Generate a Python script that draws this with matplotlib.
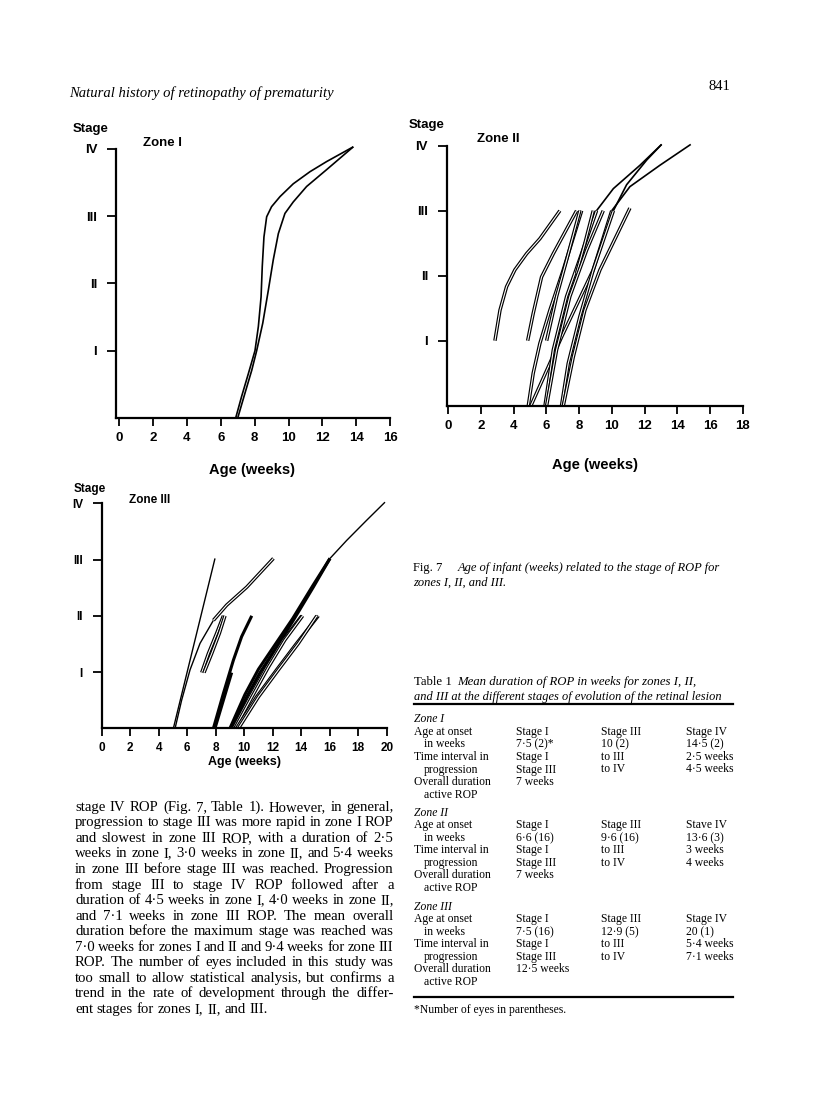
import matplotlib
matplotlib.use("Agg")
from matplotlib import pyplot as plt

W, H = 816, 1118

# ---- data (age in weeks, stage 0 = none, 1..4 = I..IV) ----
zone1_weeks = [
    [6.88, 7.23, 7.63, 8.02, 8.22, 8.38, 8.45, 8.55, 8.71, 9.0, 9.5, 10.28, 11.27, 12.25, 13.83],
    [7.0, 7.43, 7.83, 8.12, 8.48, 8.81, 9.1, 9.4, 9.79, 10.28, 11.07, 12.25, 13.83],
]
zone1_stages = [
    [0, 0.32, 0.66, 1.0, 1.36, 1.8, 2.25, 2.69, 2.99, 3.14, 3.29, 3.48, 3.66, 3.81, 4.03],
    [0, 0.37, 0.71, 1.0, 1.41, 1.9, 2.35, 2.74, 3.04, 3.21, 3.44, 3.69, 4.03],
]

zone2_weeks = [
    [2.85, 3.16, 3.56, 4.07, 4.79, 5.6, 6.82],
    [4.85, 5.19, 5.7, 6.42, 7.84],
    [4.89, 5.19, 5.6, 6.21, 7.03, 8.15],
    [6.01, 6.62, 7.23, 8.04],
    [5.05, 6.93, 8.86, 9.99],
    [5.91, 6.42, 7.23, 8.15, 9.06],
    [6.92, 7.33, 8.04, 8.86, 10.09],
    [7.03, 7.64, 8.35, 9.27, 11.1],
    [7.84, 8.35, 8.86],
    [6.01, 6.62, 7.43, 8.45, 9.47],
]
zone2_stages = [
    [1.0, 1.47, 1.83, 2.09, 2.34, 2.57, 3.0],
    [1.0, 1.42, 1.98, 2.34, 3.0],
    [0, 0.5, 0.96, 1.47, 2.09, 3.0],
    [1.0, 1.68, 2.24, 3.0],
    [0, 1.06, 2.09, 3.0],
    [0, 0.86, 1.68, 2.34, 3.0],
    [0, 0.65, 1.37, 2.09, 3.0],
    [0, 0.75, 1.47, 2.09, 3.04],
    [2.04, 2.5, 3.0],
    [0, 0.86, 1.68, 2.39, 3.0],
]
# stage III -> IV continuations
zone2_tail_weeks = [[9.06, 10.09, 11.72, 13.04], [10.09, 10.9, 12.13, 13.04], [9.99, 11.1, 12.94, 14.82]]
zone2_tail_stages = [[3.0, 3.34, 3.7, 4.02], [3.0, 3.4, 3.78, 4.02], [3.0, 3.37, 3.7, 4.02]]

zone3_thin_weeks = [[5.03, 7.95], [5.15, 5.61, 6.2, 6.9, 7.84], [16.02, 17.19, 18.6, 19.88]]
zone3_thin_stages = [[0, 3.02], [0, 0.5, 1.04, 1.51, 1.92], [3.02, 3.34, 3.7, 4.02]]
zone3_double_weeks = [
    [7.84, 8.77, 10.18, 12.05],
    [7.02, 7.49, 8.07, 8.54],
    [7.18, 7.72, 8.26, 8.65],
    [9.24, 10.41, 11.58, 12.75, 14.04],
    [9.35, 10.55, 11.7, 12.85, 14.1],
    [9.47, 10.88, 12.28, 13.68, 15.2],
    [9.6, 11.0, 12.4, 13.8, 15.1],
]
zone3_double_stages = [
    [1.92, 2.19, 2.51, 3.02],
    [0.99, 1.33, 1.69, 2.0],
    [0.99, 1.33, 1.69, 2.0],
    [0, 0.56, 1.09, 1.57, 2.0],
    [0, 0.56, 1.09, 1.57, 2.0],
    [0, 0.56, 1.04, 1.51, 2.0],
    [0, 0.56, 1.04, 1.51, 2.0],
]
zone3_thick_weeks = [
    [7.84, 8.54, 9.24, 9.82, 10.53],
    [7.95, 8.54, 9.12],
    [9.12, 10.18, 11.11, 12.28, 13.45, 14.85, 16.02],
    [9.0, 10.05, 11.0, 12.2, 13.4, 14.8, 16.02],
]
zone3_thick_stages = [
    [0, 0.62, 1.21, 1.63, 2.0],
    [0, 0.5, 0.99],
    [0, 0.56, 0.99, 1.45, 1.92, 2.51, 3.02],
    [0, 0.6, 1.05, 1.5, 1.95, 2.53, 3.02],
]

stage_labels = ["I", "II", "III", "IV"]

header = "Natural history of retinopathy of prematurity"
page_no = "841"

body_lines = [
    "stage IV ROP (Fig. 7, Table 1). However, in general,",
    "progression to stage III was more rapid in zone I ROP",
    "and slowest in zone III ROP, with a duration of 2·5",
    "weeks in zone I, 3·0 weeks in zone II, and 5·4 weeks",
    "in zone III before stage III was reached. Progression",
    "from stage III to stage IV ROP followed after a",
    "duration of 4·5 weeks in zone I, 4·0 weeks in zone II,",
    "and 7·1 weeks in zone III ROP. The mean overall",
    "duration before the maximum stage was reached was",
    "7·0 weeks for zones I and II and 9·4 weeks for zone III",
    "ROP. The number of eyes included in this study was",
    "too small to allow statistical analysis, but confirms a",
    "trend in the rate of development through the differ-",
    "ent stages for zones I, II, and III.",
]

table_zones = ["Zone I", "Zone II", "Zone III"]
row_labels = ["Age at onset", "in weeks", "Time interval in", "progression",
              "Overall duration", "active ROP"]
col_stage1 = [["Stage I", "7·5 (2)*", "Stage I", "Stage III", "7 weeks"],
              ["Stage I", "6·6 (16)", "Stage I", "Stage III", "7 weeks"],
              ["Stage I", "7·5 (16)", "Stage I", "Stage III", "12·5 weeks"]]
col_stage3 = [["Stage III", "10 (2)", "to III", "to IV"],
              ["Stage III", "9·6 (16)", "to III", "to IV"],
              ["Stage III", "12·9 (5)", "to III", "to IV"]]
col_stage4 = [["Stage IV", "14·5 (2)", "2·5 weeks", "4·5 weeks"],
              ["Stave IV", "13·6 (3)", "3 weeks", "4 weeks"],
              ["Stage IV", "20 (1)", "5·4 weeks", "7·1 weeks"]]

SANS = "Liberation Sans"
SERIF = "Liberation Serif"

fig = plt.figure(figsize=(W / 100, H / 100), dpi=100)
fig.patch.set_facecolor("white")


def ftext(x, y, s, **kw):
    # x, y in page pixels from top-left
    kw.setdefault("va", "center")
    return fig.text(x / W, 1 - y / H, s, **kw)


def make_chart(spine_x, x0, ppw, base_y, pps, xmax, tick_size):
    right = x0 + xmax * ppw
    ax = fig.add_axes([spine_x / W, 1 - base_y / H, (right - spine_x) / W, 4 * pps / H])
    ax.set_xlim((spine_x - x0) / ppw, xmax)
    ax.set_ylim(0, 4)
    for s in ["top", "right"]:
        ax.spines[s].set_visible(False)
    for s in ["left", "bottom"]:
        ax.spines[s].set_linewidth(1.6)
    ax.set_xticks(range(0, xmax + 1, 2))
    ax.set_xticklabels([str(v) for v in range(0, xmax + 1, 2)],
                       fontsize=tick_size, family=SANS, weight="bold")
    ax.set_yticks([1, 2, 3, 4])
    ax.set_yticklabels(stage_labels, fontsize=tick_size, family=SANS, weight="bold")
    ax.tick_params(axis="x", direction="out", length=6, width=1.3, pad=4)
    ax.tick_params(axis="y", direction="out", length=6.5, width=1.3, pad=7)
    ax.patch.set_alpha(0)
    return ax


def single(ax, xs, ys, lw=1.0):
    ax.plot(xs, ys, color="black", lw=lw, solid_capstyle="butt", clip_on=False)


def double(ax, xs, ys):
    ax.plot(xs, ys, color="black", lw=2.5, solid_capstyle="butt", clip_on=False)
    ax.plot(xs, ys, color="white", lw=0.8, solid_capstyle="butt", clip_on=False)


# ---- Zone I ----
ax1 = make_chart(116, 119.2, 16.93, 418, 67.3, 16, 9.5)
for xs, ys in zip(zone1_weeks, zone1_stages):
    single(ax1, xs, ys, lw=1.2)
ftext(91, 129, "Stage", ha="center", fontsize=9.5, family=SANS, weight="bold")
ftext(143, 143, "Zone I", ha="left", fontsize=9.5, family=SANS, weight="bold")
ftext(252, 470, "Age (weeks)", ha="center", fontsize=10.5, family=SANS, weight="bold")

# ---- Zone II ----
ax2 = make_chart(446.7, 448.3, 16.36, 405.7, 65, 18, 9.5)
for xs, ys in zip(zone2_weeks, zone2_stages):
    double(ax2, xs, ys)
for xs, ys in zip(zone2_tail_weeks, zone2_tail_stages):
    single(ax2, xs, ys, lw=1.2)
ftext(427, 125, "Stage", ha="center", fontsize=9.5, family=SANS, weight="bold")
ftext(477, 139, "Zone II", ha="left", fontsize=9.5, family=SANS, weight="bold")
ftext(595, 465, "Age (weeks)", ha="center", fontsize=10.5, family=SANS, weight="bold")

# ---- Zone III ----
ax3 = make_chart(101.7, 101.7, 14.25, 728.3, 56.25, 20, 8.5)
for xs, ys in zip(zone3_thin_weeks, zone3_thin_stages):
    single(ax3, xs, ys, lw=1.0)
for xs, ys in zip(zone3_thick_weeks, zone3_thick_stages):
    single(ax3, xs, ys, lw=2.2)
for xs, ys in zip(zone3_double_weeks, zone3_double_stages):
    double(ax3, xs, ys)
ftext(90, 489, "Stage", ha="center", fontsize=8.5, family=SANS, weight="bold")
ftext(129, 500, "Zone III", ha="left", fontsize=8.5, family=SANS, weight="bold")
ftext(244, 762, "Age (weeks)", ha="center", fontsize=9, family=SANS, weight="bold")

# ---- running head ----
ftext(69, 93, header, ha="left", fontsize=10.5, family=SERIF, style="italic")
ftext(719, 87, page_no, ha="center", fontsize=10.5, family=SERIF)

# ---- figure caption ----
ftext(413, 568, "Fig. 7", ha="left", fontsize=9, family=SERIF)
ftext(458, 568, "Age of infant (weeks) related to the stage of ROP for",
      ha="left", fontsize=9, family=SERIF, style="italic")
ftext(413, 583, "zones I, II, and III.", ha="left", fontsize=9, family=SERIF, style="italic")

# ---- table ----
TS = 8.4
ftext(414, 682, "Table 1", ha="left", fontsize=9.2, family=SERIF)
ftext(457, 682, "Mean duration of ROP in weeks for zones I, II,",
      ha="left", fontsize=9.2, family=SERIF, style="italic")
ftext(414, 697, "and III at the different stages of evolution of the retinal lesion",
      ha="left", fontsize=8.9, family=SERIF, style="italic")
fig.add_artist(plt.Line2D([414 / W, 733 / W], [1 - 704 / H] * 2, color="black", lw=1.6))
fig.add_artist(plt.Line2D([414 / W, 733 / W], [1 - 997 / H] * 2, color="black", lw=1.6))

zone_top = [719.3, 812.7, 906.7]
row_step = 12.55
for z in range(3):
    y0 = zone_top[z]
    ftext(414, y0, table_zones[z], ha="left", fontsize=TS, family=SERIF, style="italic")
    for k, lab in enumerate(row_labels):
        y = y0 + row_step * (k + 1)
        xl = 424 if k % 2 == 1 else 414
        ftext(xl, y, lab, ha="left", fontsize=TS, family=SERIF)
    for k, s in enumerate(col_stage1[z]):
        ftext(516, y0 + row_step * (k + 1), s, ha="left", fontsize=TS, family=SERIF)
    for k, s in enumerate(col_stage3[z]):
        ftext(601, y0 + row_step * (k + 1), s, ha="left", fontsize=TS, family=SERIF)
    for k, s in enumerate(col_stage4[z]):
        ftext(686, y0 + row_step * (k + 1), s, ha="left", fontsize=TS, family=SERIF)

ftext(414, 1010, "*Number of eyes in parentheses.", ha="left", fontsize=TS, family=SERIF)

# ---- body text, justified ----
renderer = fig.canvas.get_renderer()
BS = 10.6
x_left, x_right = 75, 393.5
for i, line in enumerate(body_lines):
    y = 807.3 + 15.55 * i
    words = line.split(" ")
    texts = [ftext(0, y, w, ha="left", fontsize=BS, family=SERIF) for w in words]
    widths = [t.get_window_extent(renderer).width for t in texts]
    if i < len(body_lines) - 1:
        gap = max((x_right - x_left - sum(widths)) / (len(words) - 1), 1.5)
    else:
        gap = BS * 0.25 * 100 / 72
    x = x_left
    for t, w in zip(texts, widths):
        t.set_x(x / W)
        x += w + gap

fig.savefig("out.png", dpi=100, facecolor="white")
